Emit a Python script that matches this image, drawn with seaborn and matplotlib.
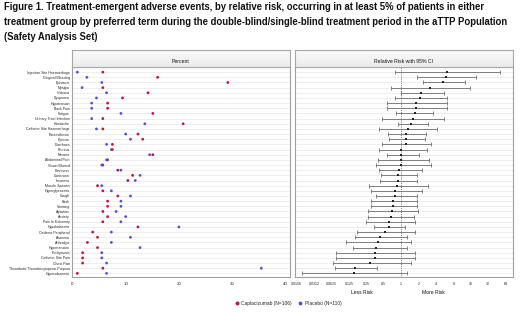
import matplotlib
matplotlib.use("Agg")
import numpy as np
import pandas as pd
import matplotlib.pyplot as plt
import seaborn as sns
from matplotlib.lines import Line2D

sns.set_style("white")
plt.rcParams['font.family'] = ['Liberation Sans', 'DejaVu Sans']

title_lines = [
    "Figure 1. Treatment-emergent adverse events, by relative risk, occurring in at least 5% of patients in either",
    "treatment group by preferred term during the double-blind/single-blind treatment period in the aTTP Population",
    "(Safety Analysis Set)",
]

terms = ["Injection Site Haemorrhage", "Gingival Bleeding", "Epistaxis", "Myalgia", "Urticaria",
         "Dyspnoea", "Hypotension", "Back Pain", "Fatigue", "Urinary Tract Infection", "Headache",
         "Catheter Site Haemorrhage", "Paraesthesia", "Pyrexia", "Diarrhoea", "Pruritus", "Nausea",
         "Abdominal Pain", "Vision Blurred", "Dizziness", "Contusion", "Insomnia", "Muscle Spasms",
         "Hyperglycaemia", "Cough", "Rash", "Vomiting", "Agitation", "Anxiety", "Pain In Extremity",
         "Hypokalaemia", "Oedema Peripheral", "Anaemia", "Arthralgia", "Hypertension", "Ecchymosis",
         "Catheter Site Pain", "Chest Pain", "Thrombotic Thrombocytopenic Purpura", "Hypocalcaemia"]

# percent of patients
cap_pct = [5.7, 16.0, 29.2, 5.7, 14.2, 9.4, 6.6, 6.6, 15.1, 5.7, 20.8, 5.7, 12.3, 13.2, 7.5, 7.5,
           15.1, 6.6, 5.7, 8.5, 11.3, 10.4, 4.7, 5.7, 8.5, 6.6, 6.6, 5.7, 6.6, 5.7, 12.3, 3.8,
           4.7, 2.8, 4.7, 1.9, 1.9, 1.9, 5.7, 0.9]
pbo_pct = [0.9, 2.7, 5.5, 1.8, 6.4, 4.5, 3.6, 3.6, 9.1, 3.6, 13.6, 4.5, 10.0, 10.9, 6.4, 7.3,
           14.5, 6.4, 5.5, 9.1, 12.7, 11.8, 5.5, 7.3, 10.9, 9.1, 9.1, 8.2, 10.0, 9.1, 20.0, 7.3,
           10.9, 7.3, 12.7, 5.5, 5.5, 6.4, 35.5, 6.4]

# relative risk with 95% CI
rr = [6.2, 5.9, 5.3, 3.1, 2.2, 2.1, 1.8, 1.8, 1.7, 1.6, 1.5, 1.3, 1.2, 1.2, 1.2, 1.0, 1.0, 1.0,
      1.0, 0.93, 0.89, 0.88, 0.86, 0.78, 0.78, 0.73, 0.73, 0.69, 0.66, 0.62, 0.61, 0.52, 0.43,
      0.39, 0.37, 0.35, 0.35, 0.29, 0.16, 0.15]
rr_lo = [0.78, 1.85, 2.4, 0.66, 0.98, 0.77, 0.57, 0.57, 0.82, 0.47, 0.87, 0.41, 0.6, 0.62, 0.46,
         0.42, 0.57, 0.39, 0.37, 0.41, 0.45, 0.43, 0.28, 0.3, 0.36, 0.3, 0.3, 0.27, 0.27, 0.25,
         0.34, 0.17, 0.16, 0.11, 0.146, 0.074, 0.074, 0.065, 0.072, 0.019]
rr_hi = [52, 20, 12.6, 15.6, 5.4, 6.2, 6.3, 6.3, 3.6, 5.5, 2.9, 4.1, 2.7, 2.6, 3.3, 2.75, 2.05,
         3.0, 3.3, 2.3, 1.9, 1.9, 2.9, 2.3, 1.85, 1.9, 1.9, 1.95, 1.68, 1.7, 1.17, 1.75, 1.24,
         1.47, 1.24, 1.75, 1.75, 1.45, 0.38, 1.24]

pct_ticks = [0, 10, 20, 30, 40]
rr_tick_labels = ["0.0156", "0.0312", "0.0625", "0.125", "0.25", "0.5", "1", "2", "4", "8",
                  "16", "32", "64"]

cap_label = "Caplacizumab (N=106)"
pbo_label = "Placebo (N=110)"
red = "#c0143c"
blue = "#5050e0"

W, H = 520, 313
def box(x0, y0, x1, y1):
    return [x0 / W, 1 - y1 / H, (x1 - x0) / W, (y1 - y0) / H]

fig = plt.figure(figsize=(W / 100, H / 100), dpi=100)
fig.patch.set_facecolor("white")

# title, left aligned, three lines
for i, line in enumerate(title_lines):
    fig.text(4 / W, 1 - (7 + 15 * i) / H, line, ha="left", va="center",
             fontsize=6.85, weight="bold", color="#111111")

ax1 = fig.add_axes(box(72, 67, 290, 277))
ax2 = fig.add_axes(box(295, 67, 513, 277))
h1 = fig.add_axes(box(72, 50, 290, 67))
h2 = fig.add_axes(box(295, 50, 513, 67))

# light gray header bands
grad = np.linspace(0.04, 0.16, 50).reshape(-1, 1)
for hax, txt in [(h1, "Percent"), (h2, "Relative Risk with 95% CI")]:
    hax.imshow(grad, aspect="auto", cmap="Greys", vmin=0, vmax=1,
               extent=[0, 1, 0, 1], origin="upper")
    hax.set_xlim(0, 1)
    hax.set_ylim(0, 1)
    hax.set_xticks([])
    hax.set_yticks([])
    for s in hax.spines.values():
        s.set_color("#a8a8a8")
        s.set_linewidth(0.8)
    hax.text(0.5, 0.32, txt, ha="center", va="center", fontsize=3.7, color="#111111")

n = len(terms)
rows = list(range(n))

df_pct = pd.DataFrame({
    "row": rows * 2,
    "pct": cap_pct + pbo_pct,
    "grp": [cap_label] * n + [pbo_label] * n,
})
df_rr = pd.DataFrame({"row": rows, "rr": rr, "lo": rr_lo, "hi": rr_hi})

for ax in (ax1, ax2):
    for r in rows:
        ax.axhline(r, color="#e8e8e8", lw=0.5, zorder=0)
    ax.set_ylim(39.7, -1.0)
    for s in ax.spines.values():
        s.set_color("#a0a0a0")
        s.set_linewidth(0.8)

sns.scatterplot(data=df_pct, x="pct", y="row", hue="grp",
                palette={cap_label: red, pbo_label: blue},
                s=4, linewidth=0, legend=False, ax=ax1, zorder=3)
ax1.set_xlim(-0.1, 40.9)
ax1.set_xticks(pct_ticks)
ax1.set_yticks(rows)
ax1.set_yticklabels(terms)
ax1.tick_params(axis="y", length=0, labelsize=2.5, pad=1.5)
ax1.tick_params(axis="x", length=2, width=0.5, labelsize=3.2, pad=1.5, color="#555555")
ax1.set_xlabel("")
ax1.set_ylabel("")

# relative risk
ax2.set_xscale("log", base=2)
ax2.errorbar(df_rr["rr"], df_rr["row"],
             xerr=[df_rr["rr"] - df_rr["lo"], df_rr["hi"] - df_rr["rr"]],
             fmt="none", ecolor="#6e6e6e", elinewidth=0.6, capsize=1.1, capthick=0.6, zorder=2)
sns.scatterplot(data=df_rr, x="rr", y="row", color="#222222", marker="s", s=1.0,
                linewidth=0, ax=ax2, zorder=3)
ax2.axvline(1, color="#444444", lw=0.6, ls=(0, (1, 1.5)), zorder=1)
ax2.set_xlim(2 ** -6.1, 2 ** 6.42)
ax2.set_xticks([2.0 ** k for k in range(-6, 7)])
ax2.set_xticklabels(rr_tick_labels)
ax2.minorticks_off()
ax2.set_yticks([])
ax2.tick_params(axis="x", length=2, width=0.5, labelsize=2.6, pad=1.5, color="#555555")
ax2.set_xlabel("")
ax2.set_ylabel("")

fig.text(362 / W, 1 - 292 / H, "Less Risk", ha="center", va="center", fontsize=3.6, color="#111111")
fig.text(433 / W, 1 - 292 / H, "More Risk", ha="center", va="center", fontsize=3.6, color="#111111")

handles = [
    Line2D([], [], marker="o", ls="none", color=red, markersize=1.8, label=cap_label),
    Line2D([], [], marker="o", ls="none", color=blue, markersize=1.8, label=pbo_label),
]
fig.legend(handles=handles, loc="center", bbox_to_anchor=(288 / W, 1 - 303 / H), ncol=2,
           frameon=False, fontsize=3.5, handletextpad=0.4, columnspacing=1.2,
           handlelength=1.0)

fig.savefig("out.png", dpi=100)
